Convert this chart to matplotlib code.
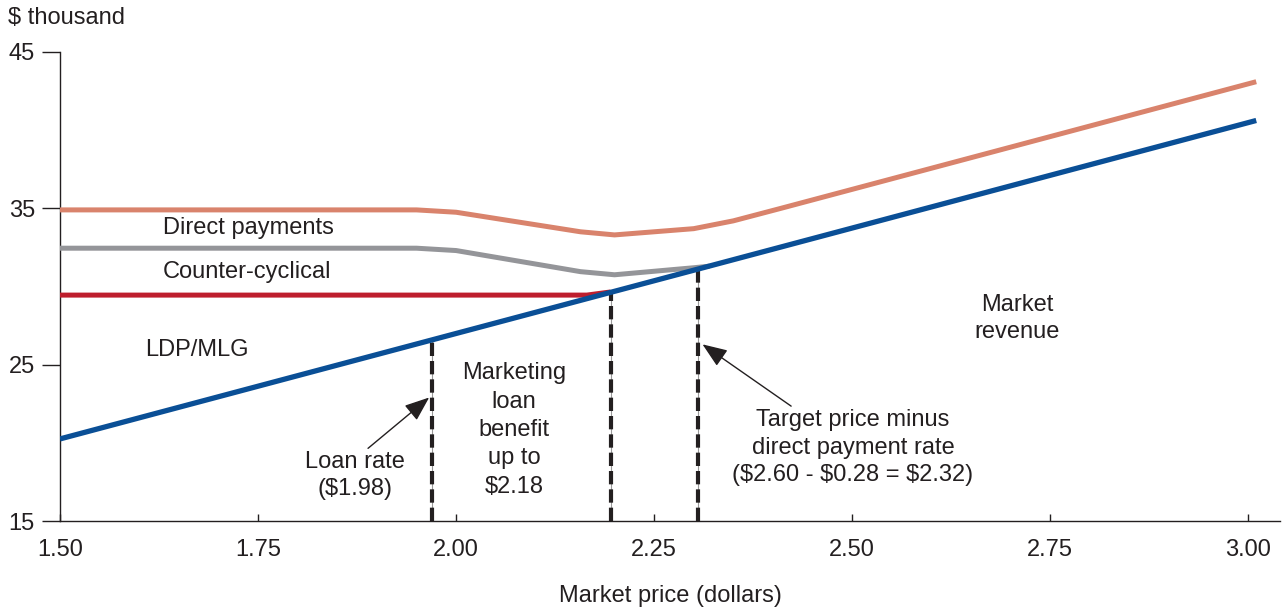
import matplotlib
matplotlib.use('Agg')
import matplotlib.pyplot as plt

plt.rcParams['font.family'] = ['Liberation Sans', 'DejaVu Sans']

# market price (dollars) and revenue ($ thousand)
market_x = [1.50, 3.01]
market_y = [20.25, 40.62]

direct_x = [1.50, 1.95, 2.00, 2.157, 2.20, 2.30, 2.35, 2.41, 3.01]
direct_y = [34.9, 34.9, 34.75, 33.5, 33.3, 33.7, 34.2, 35.0, 43.1]

counter_x = [1.50, 1.95, 2.00, 2.157, 2.20, 2.30, 2.32]
counter_y = [32.45, 32.45, 32.3, 30.95, 30.75, 31.2, 31.3]

ldp_x = [1.50, 2.165, 2.195]
ldp_y = [29.45, 29.45, 29.65]

# price levels marked with dashed lines
price_marks = [1.97, 2.195, 2.305]

xticks = [1.50, 1.75, 2.00, 2.25, 2.50, 2.75, 3.00]
yticks = [15, 25, 35, 45]

txt = '#231f20'
fs = 17

fig = plt.figure(figsize=(12.82, 6.11), dpi=100)
ax = fig.add_axes([60 / 1282, 1 - 521 / 611, 1220 / 1282, 469 / 611])

ax.plot(direct_x, direct_y, color='#d9836c', lw=3.6, solid_capstyle='butt', zorder=3)
ax.plot(counter_x, counter_y, color='#949599', lw=3.6, solid_capstyle='butt', zorder=3)
ax.plot(ldp_x, ldp_y, color='#be1e2d', lw=3.6, solid_capstyle='butt', zorder=3)
ax.plot(market_x, market_y, color='#0a4f96', lw=3.8, solid_capstyle='butt', zorder=5)

slope = (market_y[1] - market_y[0]) / (market_x[1] - market_x[0])
for p in price_marks:
    top = market_y[0] + slope * (p - market_x[0])
    ax.plot([p, p], [15, top], color='#999999', lw=0.8, zorder=2)
    ax.plot([p, p], [15, top], color='#231f20', lw=3.0, dashes=(3.2, 1.2), zorder=2)

ax.set_xlim(1.50, 3.04)
ax.set_ylim(15, 45)
ax.set_xticks(xticks)
ax.set_xticklabels([f'{v:.2f}' for v in xticks])
ax.set_yticks(yticks)

for s in ['top', 'right']:
    ax.spines[s].set_visible(False)
for s in ['left', 'bottom']:
    ax.spines[s].set_color(txt)
    ax.spines[s].set_linewidth(1.0)

ax.tick_params(axis='x', direction='in', length=5, width=1, pad=13, labelsize=fs, colors=txt)
ax.tick_params(axis='y', direction='out', length=13, width=1, pad=5, labelsize=fs, colors=txt)

ax.set_xlabel('Market price (dollars)', fontsize=fs, color=txt, labelpad=17)
fig.text(8 / 1282, 1 - 18 / 611, '$ thousand', fontsize=fs, color=txt, va='center', ha='left')

ax.text(1.630, 33.75, 'Direct payments', fontsize=fs, color=txt, va='center', ha='left')
ax.text(1.630, 30.93, 'Counter-cyclical', fontsize=fs, color=txt, va='center', ha='left')
ax.text(1.607, 25.94, 'LDP/MLG', fontsize=fs, color=txt, va='center', ha='left')
ax.text(2.708, 27.95, 'Market\nrevenue', fontsize=fs, color=txt, va='center', ha='center',
        linespacing=1.3)
ax.text(2.073, 20.82, 'Marketing\nloan\nbenefit\nup to\n$2.18', fontsize=fs, color=txt,
        va='center', ha='center', linespacing=1.37)

arrow = dict(arrowstyle='-|>,head_length=0.9,head_width=0.35', color=txt, lw=1.0,
             shrinkA=0, shrinkB=0)
ax.annotate('Loan rate\n($1.98)', xy=(1.966, 22.9), xytext=(1.872, 17.9),
            fontsize=fs, color=txt, ha='center', va='center', linespacing=1.3,
            arrowprops=dict(arrow, relpos=(0.6, 1.0)))
ax.annotate('Target price minus\ndirect payment rate\n($2.60 - $0.28 = $2.32)',
            xy=(2.311, 26.3), xytext=(2.501, 19.7),
            fontsize=fs, color=txt, ha='center', va='center', linespacing=1.33,
            arrowprops=dict(arrow, relpos=(0.26, 1.0)))

fig.savefig('out.png', dpi=100)
